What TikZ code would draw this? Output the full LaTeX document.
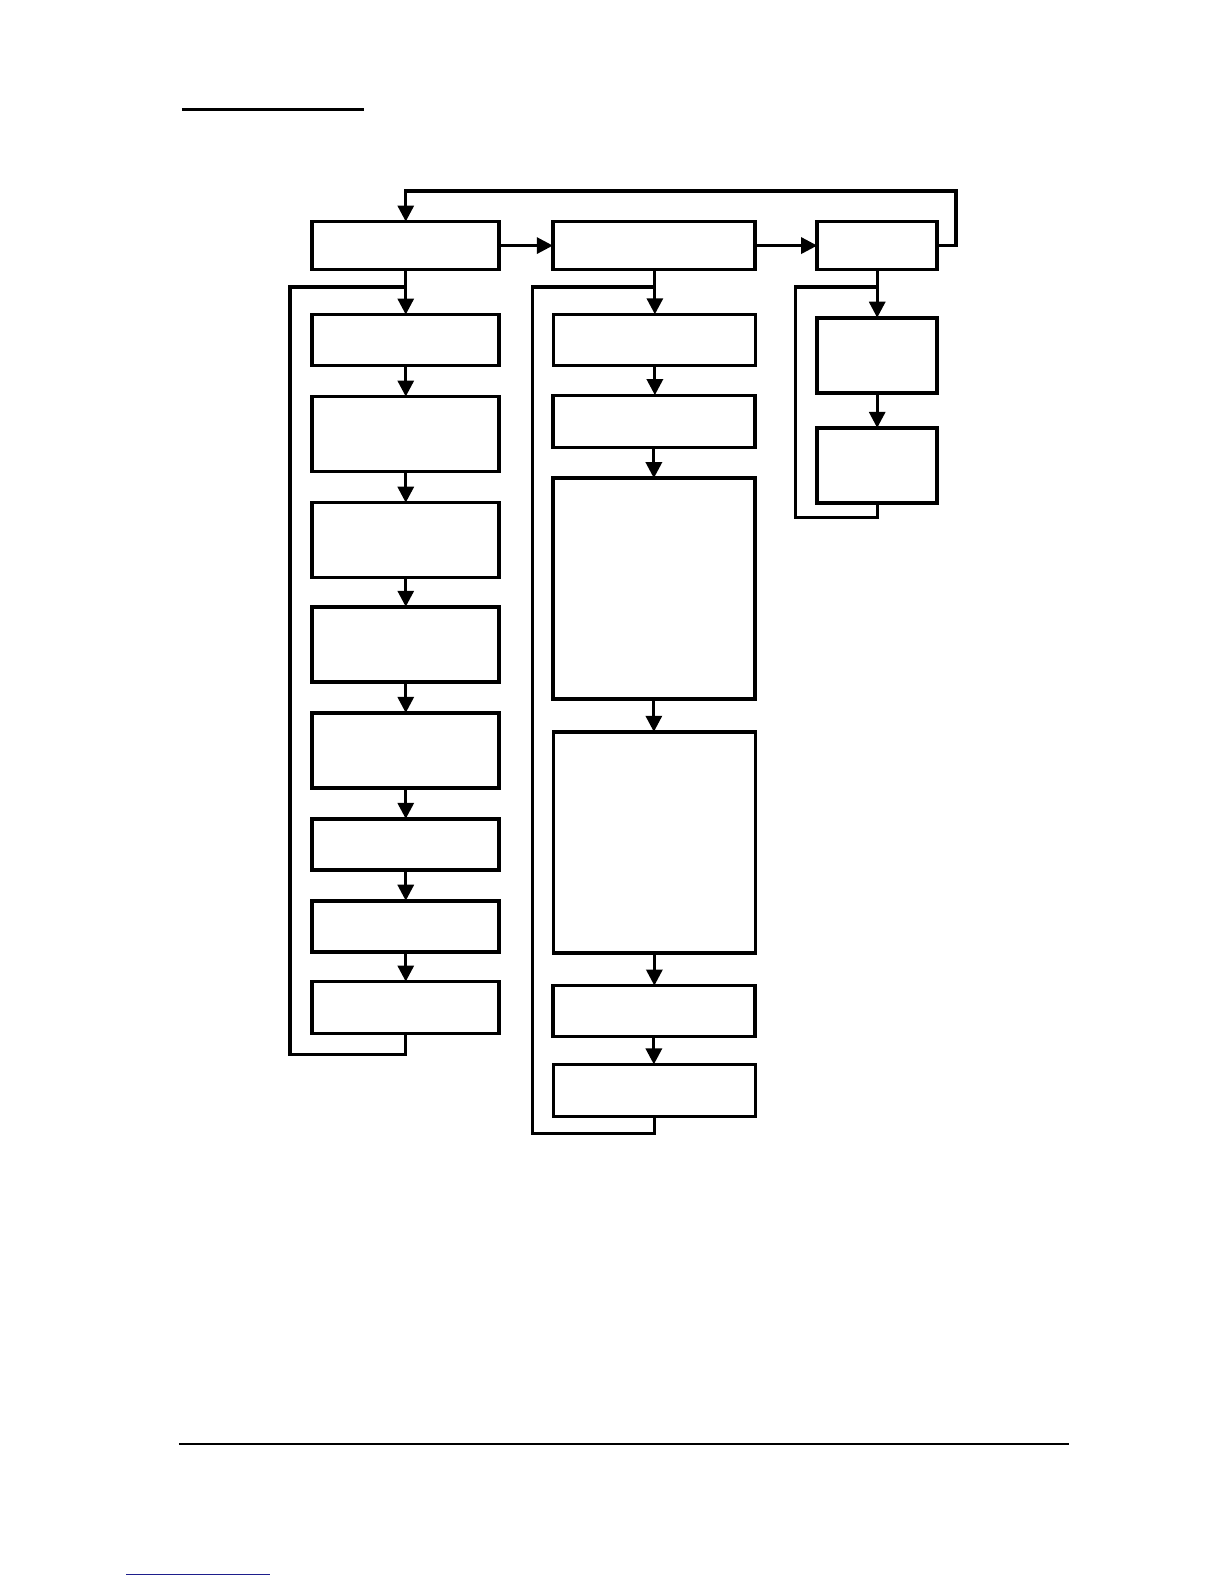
\documentclass[tikz,border=0pt]{standalone}
\usetikzlibrary{arrows.meta}
\begin{document}
\begin{tikzpicture}[x=1.0106bp,y=-1.0106bp,
  box/.style={draw=black,line width=3.6bp,fill=white,inner sep=0pt,outer sep=0pt},
  conn/.style={line width=3.1bp,line join=miter},
  arr/.style={conn,-{Triangle[length=16bp,width=16bp]}}]
\useasboundingbox (0,0) rectangle (1224bp,-1584bp);
% page rules
\draw[line width=2.8bp] (180,108) coordinate (t1) -- (360,108) coordinate (t2);
\draw[line width=1.6bp] (177,1429) coordinate (f1) -- (1058,1429) coordinate (f2);
\draw[line width=1.5bp,color={rgb,255:red,30;green,30;blue,140}] (125,1558) coordinate (l1) -- (267,1558) coordinate (l2);
% column 1
\node[box,minimum width=187bp,minimum height=48bp] (a) at (401.5,243) {};
\node[box,minimum width=187bp,minimum height=51bp] (a1) at (401.5,336.5) {};
\node[box,minimum width=187bp,minimum height=75bp] (a2) at (401.5,429.5) {};
\node[box,minimum width=187bp,minimum height=75bp] (a3) at (401.5,534.5) {};
\node[box,minimum width=187bp,minimum height=75bp] (a4) at (401.5,637.5) {};
\node[box,minimum width=187bp,minimum height=75bp] (a5) at (401.5,742.5) {};
\node[box,minimum width=187bp,minimum height=51bp] (a6) at (401.5,835.5) {};
\node[box,minimum width=187bp,minimum height=51bp] (a7) at (401.5,916.5) {};
\node[box,minimum width=187bp,minimum height=52bp] (a8) at (401.5,997) {};
% column 2
\node[box,minimum width=202bp,minimum height=48bp] (b) at (647,243) {};
\node[box,minimum width=202bp,minimum height=51bp] (b1) at (647.5,336.5) {};
\node[box,minimum width=202bp,minimum height=52bp] (b2) at (647,417) {};
\node[box,minimum width=202bp,minimum height=221bp] (b3) at (647,582.5) {};
\node[box,minimum width=202bp,minimum height=221bp] (b4) at (647.5,833.5) {};
\node[box,minimum width=202bp,minimum height=51bp] (b5) at (647,1000.5) {};
\node[box,minimum width=202bp,minimum height=52bp] (b6) at (647.5,1079) {};
% column 3
\node[box,minimum width=120bp,minimum height=48bp] (c) at (868,243) {};
\node[box,minimum width=120bp,minimum height=75bp] (c1) at (868,351.5) {};
\node[box,minimum width=120bp,minimum height=75bp] (c2) at (868,460.5) {};
% vertical arrows
\foreach \u/\v in {a/a1,a1/a2,a2/a3,a3/a4,a4/a5,a5/a6,a6/a7,a7/a8,
                   b2/b3,b3/b4,b4/b5,b5/b6,c/c1,c1/c2}
  \draw[arr] (\u.south) -- (\u.south |- \v.north);
\draw[arr] (648,267) -- (648,311);
\draw[arr] (648,362) -- (648,391);
% horizontal arrows
\draw[arr] (a.east) -- (b.west);
\draw[arr] (b.east) -- (c.west);
% loops
\coordinate (ja) at (401.5,284);
\coordinate (jb) at (648,284);
\coordinate (jc) at (868,284);
\draw[conn] (a8.south) -- (401.5,1043) -- (287,1043) -- (287,284) -- (ja);
\draw[conn] (648,1105) -- (648,1122) -- (527,1122) -- (527,284) -- (jb);
\draw[conn] (c2.south) -- (868,512) -- (787,512) -- (787,284) -- (jc);
% feedback
\draw[arr] (c.east) -- (946,243) -- (946,189) -- (401.5,189) -- (a.north);
\end{tikzpicture}
\end{document}
